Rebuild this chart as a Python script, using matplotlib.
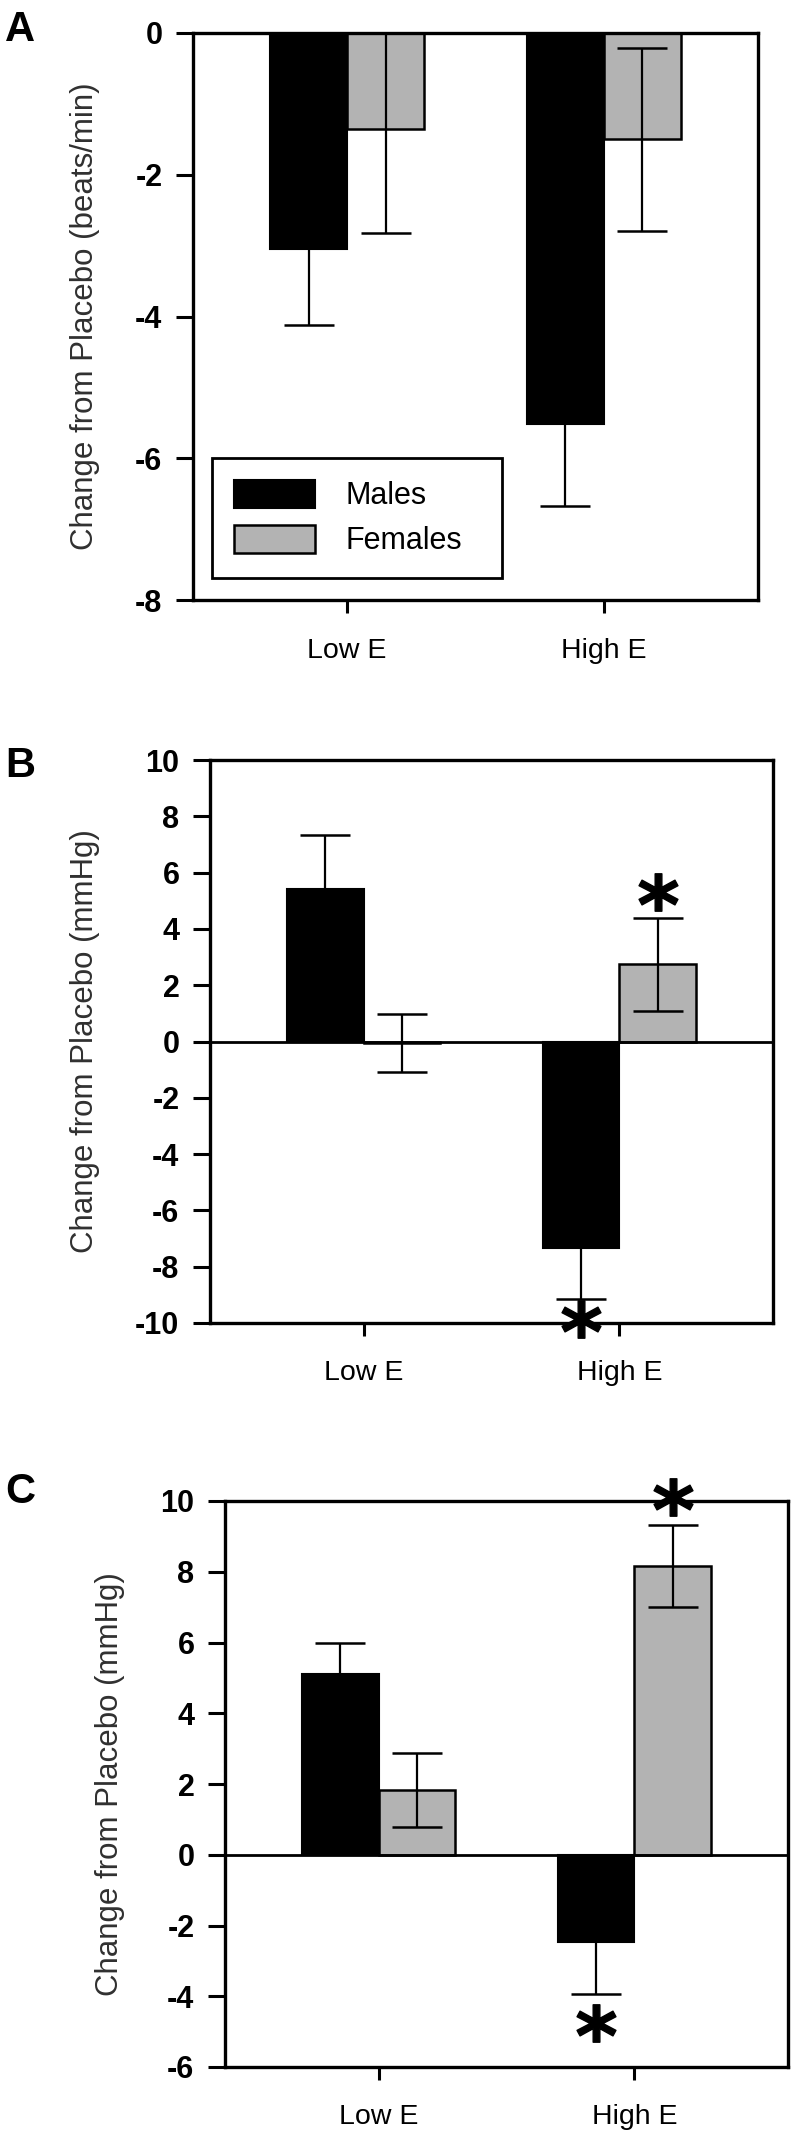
import matplotlib
matplotlib.use("Agg")
import matplotlib.pyplot as plt
import numpy as np

plt.rcParams['font.family'] = ['Liberation Sans', 'DejaVu Sans']
plt.rcParams['axes.unicode_minus'] = False

categories = ["Low E", "High E"]
series_names = ["Males", "Females"]

# Panel A: heart rate (beats/min)
a_males = [-3.05, -5.52]
a_males_err = [1.07, 1.15]
a_females = [-1.35, -1.50]
a_females_err = [1.47, 1.29]
a_yticks = [0, -2, -4, -6, -8]

# Panel B (mmHg)
b_males = [5.42, -7.35]
b_males_err = [1.90, 1.81]
b_females = [-0.05, 2.74]
b_females_err = [1.02, 1.66]
b_yticks = [10, 8, 6, 4, 2, 0, -2, -4, -6, -8, -10]
b_stars = [(1, "Females", 5.3), (1, "Males", -9.85)]

# Panel C (mmHg)
c_males = [5.10, -2.48]
c_males_err = [0.90, 1.45]
c_females = [1.84, 8.16]
c_females_err = [1.05, 1.15]
c_yticks = [10, 8, 6, 4, 2, 0, -2, -4, -6]
c_stars = [(1, "Females", 10.1), (1, "Males", -4.75)]

W, H = 794, 2140
fig = plt.figure(figsize=(W / 100, H / 100), dpi=100)

def rect(l, r, t, b):
    return [l / W, (H - b) / H, (r - l) / W, (b - t) / H]

GREY = "#b3b3b3"
BW = 0.3

def panel(pos, males, merr, females, ferr, yticks, ylabel, ylab_x, letter, letter_y,
          stars=None, zero_line=False, legend=False):
    ax = fig.add_axes(rect(*pos))
    x = np.arange(len(categories))
    xm = x - BW / 2
    xf = x + BW / 2
    ax.bar(xm, males, BW, color="black", edgecolor="black", linewidth=1.5, zorder=2, label=series_names[0])
    ax.bar(xf, females, BW, color=GREY, edgecolor="black", linewidth=1.8, zorder=2, label=series_names[1])
    ax.errorbar(xm, males, yerr=merr, fmt="none", ecolor="black", elinewidth=1.6,
                capsize=18, capthick=1.8, zorder=3)
    ax.errorbar(xf, females, yerr=ferr, fmt="none", ecolor="black", elinewidth=1.6,
                capsize=18, capthick=1.8, zorder=3)
    if zero_line:
        ax.axhline(0, color="black", lw=2.0, zorder=4)
    ax.set_xlim(-0.6, 1.6)
    ax.set_ylim(min(yticks), max(yticks))
    ax.set_yticks(yticks)
    ax.set_yticklabels([str(v) for v in yticks], fontsize=22, fontweight="bold")
    ax.set_xticks(x)
    ax.set_xticklabels(categories, fontsize=20.5)
    ax.tick_params(axis="y", direction="out", length=12, width=2.2, pad=10)
    ax.tick_params(axis="x", direction="out", length=9, width=2.2, pad=18)
    for s in ax.spines.values():
        s.set_linewidth(2.4)
    ax.text(ylab_x, 0.5, ylabel, transform=ax.transAxes, rotation=90,
            ha="center", va="center", fontsize=22.5, color="#303030")
    fig.text(5 / W, 1 - letter_y / H, letter, fontsize=30, fontweight="bold",
             ha="left", va="top")
    if stars:
        for ci, ser, yv in stars:
            xs = ci - BW / 2 if ser == "Males" else ci + BW / 2
            ax.plot([xs], [yv], marker="$\\mathbf{*}$", markersize=28, color="black",
                    linestyle="none", clip_on=False, zorder=6)
    if legend:
        leg = ax.legend(loc="lower left", bbox_to_anchor=(0.034, 0.039, 0.513, 0.234),
                        mode="expand", fontsize=22, frameon=True, fancybox=False,
                        edgecolor="black", handlelength=2.65, handleheight=1.05,
                        handletextpad=1.0, borderpad=0.7, labelspacing=0.45,
                        borderaxespad=0)
        leg.get_frame().set_linewidth(2.0)
        leg.get_frame().set_alpha(1)
    return ax

panel((193, 758, 33, 600), a_males, a_males_err, a_females, a_females_err, a_yticks,
      "Change from Placebo (beats/min)", -0.191, "A", 10, legend=True)
panel((210, 773, 760, 1323), b_males, b_males_err, b_females, b_females_err, b_yticks,
      "Change from Placebo (mmHg)", -0.222, "B", 746, stars=b_stars, zero_line=True)
panel((225, 788, 1501, 2067), c_males, c_males_err, c_females, c_females_err, c_yticks,
      "Change from Placebo (mmHg)", -0.204, "C", 1472, stars=c_stars, zero_line=True)

fig.savefig("out.png", dpi=100)
